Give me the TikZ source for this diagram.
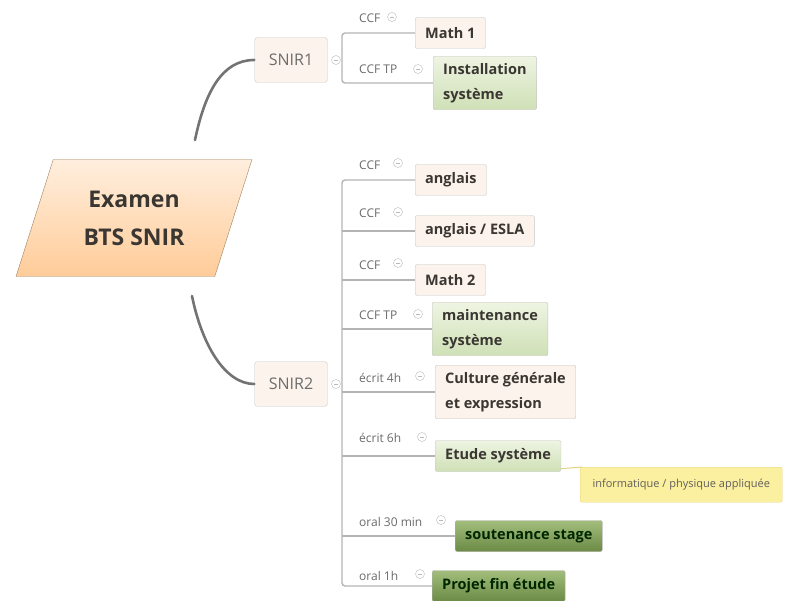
\documentclass[tikz,border=0pt]{standalone}
\usepackage{fontspec}
\setmainfont{Open Sans}
\usetikzlibrary{shapes.geometric}
\definecolor{rootline}{HTML}{737373}
\definecolor{branchline}{HTML}{B4B4B4}
\definecolor{labgray}{HTML}{6A6A6A}
\definecolor{boxtext}{HTML}{3A3632}
\definecolor{paleface}{HTML}{FCF3EC}
\definecolor{lightgreenA}{HTML}{EEF4E2}
\definecolor{lightgreenB}{HTML}{CFE0B6}
\definecolor{darkgreenA}{HTML}{A3BE7C}
\definecolor{darkgreenB}{HTML}{6A8A45}
\definecolor{notefill}{HTML}{FBF0A0}
\definecolor{noteedge}{HTML}{E4D27E}
\newcommand{\boxfont}{\fontsize{14.5}{25}\selectfont\bfseries}
\newcommand{\labfont}{\fontsize{12}{13}\selectfont}

\begin{document}
\begin{tikzpicture}[x=1pt,y=-1pt,
  exam/.style={shape=trapezium, trapezium left angle=68, trapezium right angle=112,
    trapezium stretches=true, minimum width=236pt, minimum height=117pt,
    top color=orange!13, bottom color=orange!40!white, draw=brown!50!gray,
    text=boxtext, align=center, font=\fontsize{23}{38}\selectfont\bfseries},
  level/.style={draw=gray!40, rounded corners=3pt, fill=paleface, text=gray!85!black,
    minimum width=73pt, minimum height=45pt, font=\fontsize{16}{18}\selectfont},
  topic/.style={draw=gray!45, rounded corners=2pt, fill=paleface, text=boxtext,
    anchor=west, align=left, inner xsep=10pt, inner ysep=7pt, minimum height=31pt,
    font=\boxfont},
  greentopic/.style={topic, top color=lightgreenA, bottom color=lightgreenB},
  darktopic/.style={topic, top color=darkgreenA, bottom color=darkgreenB,
    draw=gray!60, text=black!85!green},
  note/.style={draw=noteedge, rounded corners=2pt, fill=notefill, text=boxtext!80,
    anchor=north west, minimum width=202pt, minimum height=35pt,
    font=\fontsize{11}{13}\selectfont},
  lab/.style={anchor=west, text=labgray, inner sep=0pt, font=\labfont},
  knob/.style={circle, draw=gray!55, inner sep=0pt, minimum size=9pt,
    path picture={\draw[gray!55] ([xshift=-2pt]path picture bounding box.center)
      -- ([xshift=2pt]path picture bounding box.center);}},
  trunk/.style={draw=rootline, line width=2.6pt, line cap=round},
  branch/.style={draw=branchline, line width=1.4pt},
  noteline/.style={draw=noteedge, line width=1pt}]
\useasboundingbox (0,0) rectangle (787,601);

% root and the two years
\node[exam] (root) at (134,218) {Examen\\BTS SNIR};
\node[level] (snir1) at (291,60) {SNIR1};
\node[level] (snir2) at (291,384) {SNIR2};
\coordinate (rootup) at (195,140);
\coordinate (rootdown) at (192,296);
\draw[trunk] (rootup) .. controls (205,92) and (222,60) .. (snir1.west);
\draw[trunk] (rootdown) .. controls (202,345) and (225,384) .. (snir2.west);
\node[knob] (k1) at (336,60) {};
\node[knob] (k2) at (336,384) {};

% SNIR1
\node[topic] (math1) at (415,33) {Math 1};
\node[greentopic] (install) at (433,83) {Installation\\système};
\draw[branch, rounded corners=3pt] (math1.west) -- (342,33) -- (342,83) -- (install.west);
\node[lab] (l11) at (359,18) {CCF};
\node[knob] (k11) at (392,17) {};
\node[lab] (l12) at (359,69) {CCF TP};
\node[knob] (k12) at (418,69) {};

% SNIR2
\node[topic] (anglais) at (415,180) {anglais};
\node[topic] (esla) at (415,231) {anglais / ESLA};
\node[topic] (math2) at (415,280) {Math 2};
\node[greentopic] (maint) at (432,329) {maintenance\\système};
\node[topic] (culture) at (435,392) {Culture générale\\et expression};
\node[greentopic] (etude) at (435,456) {Etude système};
\node[darktopic] (stage) at (455,536) {soutenance stage};
\node[darktopic] (projet) at (432,586) {Projet fin étude};
\draw[branch, rounded corners=3pt] (anglais.west) -- (342,180) -- (342,586) -- (projet.west);
\draw[branch] (342,231) -- (esla.west);
\draw[branch] (342,280) -- (math2.west);
\draw[branch] (342,329) -- (maint.west);
\draw[branch] (342,392) -- (culture.west);
\draw[branch] (342,456) -- (etude.west);
\draw[branch] (342,536) -- (stage.west);

\node[lab] (l21) at (359,165) {CCF};
\node[knob] (k21) at (398,163) {};
\node[lab] (l22) at (359,213) {CCF};
\node[knob] (k22) at (398,212) {};
\node[lab] (l23) at (359,265) {CCF};
\node[knob] (k23) at (398,263) {};
\node[lab] (l24) at (359,315) {CCF TP};
\node[knob] (k24) at (418,314) {};
\node[lab] (l25) at (359,378) {écrit 4h};
\node[knob] (k25) at (420,376) {};
\node[lab] (l26) at (359,438) {écrit 6h};
\node[knob] (k26) at (422,437) {};
\node[lab] (l27) at (359,522) {oral 30 min};
\node[knob] (k27) at (441,520) {};
\node[lab] (l28) at (359,576) {oral 1h};
\node[knob] (k28) at (420,574) {};

% note on Etude systeme
\node[note] (info) at (580,467) {informatique / physique appliquée};
\draw[noteline] ([yshift=3pt]etude.south east) -- ([xshift=2pt]info.north west);
\end{tikzpicture}
\end{document}
